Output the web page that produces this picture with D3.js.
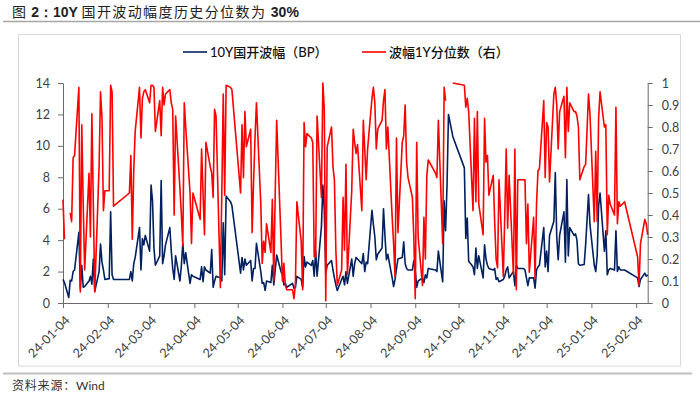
<!DOCTYPE html>
<html>
<head>
<meta charset="utf-8">
<script src="https://cdn.jsdelivr.net/npm/d3@7"></script>
<style>
  body { margin: 0; background: #fff; }
  text { font-family: Lato, 'Noto Sans CJK SC', sans-serif; }
</style>
</head>
<body>
<svg width="700" height="394"></svg>
<script>
// trading days, 2024-01-04 .. 2025-02-12
const dates = [
  '2024-01-04','2024-01-05','2024-01-08','2024-01-09','2024-01-10','2024-01-11','2024-01-12','2024-01-15','2024-01-16','2024-01-17','2024-01-18','2024-01-19','2024-01-22','2024-01-23','2024-01-24','2024-01-25','2024-01-26','2024-01-29','2024-01-30','2024-01-31',
  '2024-02-01','2024-02-02','2024-02-05','2024-02-06','2024-02-07','2024-02-08','2024-02-19','2024-02-20','2024-02-21','2024-02-22','2024-02-23','2024-02-26','2024-02-27','2024-02-28','2024-02-29',
  '2024-03-01','2024-03-04','2024-03-05','2024-03-06','2024-03-07','2024-03-08','2024-03-11','2024-03-12','2024-03-13','2024-03-14','2024-03-15','2024-03-18','2024-03-19','2024-03-20','2024-03-21','2024-03-22','2024-03-25','2024-03-26','2024-03-27','2024-03-28','2024-03-29',
  '2024-04-01','2024-04-02','2024-04-03','2024-04-08','2024-04-09','2024-04-10','2024-04-11','2024-04-12','2024-04-15','2024-04-16','2024-04-17','2024-04-18','2024-04-19','2024-04-22','2024-04-23','2024-04-24','2024-04-25','2024-04-26','2024-04-29','2024-04-30',
  '2024-05-06','2024-05-07','2024-05-08','2024-05-09','2024-05-10','2024-05-13','2024-05-14','2024-05-15','2024-05-16','2024-05-17','2024-05-20','2024-05-21','2024-05-22','2024-05-23','2024-05-24','2024-05-27','2024-05-28','2024-05-29','2024-05-30','2024-05-31',
  '2024-06-03','2024-06-04','2024-06-05','2024-06-06','2024-06-07','2024-06-11','2024-06-12','2024-06-13','2024-06-14','2024-06-17','2024-06-18','2024-06-19','2024-06-20','2024-06-21','2024-06-24','2024-06-25','2024-06-26','2024-06-27','2024-06-28',
  '2024-07-01','2024-07-02','2024-07-03','2024-07-04','2024-07-05','2024-07-08','2024-07-09','2024-07-10','2024-07-11','2024-07-12','2024-07-15','2024-07-16','2024-07-17','2024-07-18','2024-07-19','2024-07-22','2024-07-23','2024-07-24','2024-07-25','2024-07-26','2024-07-29','2024-07-30','2024-07-31',
  '2024-08-01','2024-08-02','2024-08-05','2024-08-06','2024-08-07','2024-08-08','2024-08-09','2024-08-12','2024-08-13','2024-08-14','2024-08-15','2024-08-16','2024-08-19','2024-08-20','2024-08-21','2024-08-22','2024-08-23','2024-08-26','2024-08-27','2024-08-28','2024-08-29','2024-08-30',
  '2024-09-02','2024-09-03','2024-09-04','2024-09-05','2024-09-06','2024-09-09','2024-09-10','2024-09-11','2024-09-12','2024-09-13','2024-09-18','2024-09-19','2024-09-20','2024-09-23','2024-09-24','2024-09-25','2024-09-26','2024-09-27','2024-09-30',
  '2024-10-08','2024-10-09','2024-10-10','2024-10-11','2024-10-14','2024-10-15','2024-10-16','2024-10-17','2024-10-18','2024-10-21','2024-10-22','2024-10-23','2024-10-24','2024-10-25','2024-10-28','2024-10-29','2024-10-30','2024-10-31',
  '2024-11-01','2024-11-04','2024-11-05','2024-11-06','2024-11-07','2024-11-08','2024-11-11','2024-11-12','2024-11-13','2024-11-14','2024-11-15','2024-11-18','2024-11-19','2024-11-20','2024-11-21','2024-11-22','2024-11-25','2024-11-26','2024-11-27','2024-11-28','2024-11-29',
  '2024-12-02','2024-12-03','2024-12-04','2024-12-05','2024-12-06','2024-12-09','2024-12-10','2024-12-11','2024-12-12','2024-12-13','2024-12-16','2024-12-17','2024-12-18','2024-12-19','2024-12-20','2024-12-23','2024-12-24','2024-12-25','2024-12-26','2024-12-27','2024-12-30','2024-12-31',
  '2025-01-02','2025-01-03','2025-01-06','2025-01-07','2025-01-08','2025-01-09','2025-01-10','2025-01-13','2025-01-14','2025-01-15','2025-01-16','2025-01-17','2025-01-20','2025-01-21','2025-01-22','2025-01-23','2025-01-24','2025-01-27',
  '2025-02-05','2025-02-06','2025-02-07','2025-02-10','2025-02-11','2025-02-12'
]

// 10Y国开波幅（BP）, left axis
const bp = [
  1.5,1.3,0.35,1.45,1.4,2.0,2.1,4.5,0.9,2.4,1.0,1.05,1.4,1.7,1.2,2.8,0.75,2.0,3.75,2.6,
  2.1,1.5,1.55,5.8,1.8,1.5,1.5,2.0,1.4,2.5,2.9,4.8,2.1,4.1,3.7,
  4.3,3.3,7.5,6.5,3.5,2.4,3.0,7.8,2.5,3.0,3.7,4.8,3.3,2.2,1.5,3.0,1.4,2.4,3.8,2.5,3.2,
  1.25,1.8,1.7,1.5,2.3,1.35,2.3,2.1,1.9,3.4,1.0,1.4,1.7,1.6,1.4,5.1,1.8,6.8,6.45,6.2,
  1.9,2.9,2.1,2.8,2.4,2.7,1.4,2.2,2.2,3.8,2.0,1.25,1.3,0.8,1.4,1.3,2.4,1.15,2.1,3.05,
  2.0,1.8,1.15,1.25,1.0,1.25,0.93,1.0,1.7,1.5,1.0,2.95,2.3,2.6,2.4,2.7,1.7,3.3,1.7,
  4.85,7.5,5.9,1.9,2.4,2.7,2.1,1.6,1.15,0.8,1.5,1.7,1.15,2.0,1.25,2.8,1.7,2.5,2.9,2.8,2.5,3.15,2.0,
  2.6,2.5,5.9,5.0,4.2,2.75,3.1,3.5,6.0,4.3,2.75,3.1,1.6,1.05,1.5,2.2,2.8,2.9,3.9,2.5,2.2,2.1,
  2.1,2.7,2.1,1.0,1.4,1.6,1.3,1.8,1.6,2.2,2.1,2.0,3.3,1.35,6.5,4.6,7.5,12.0,10.6,
  8.6,4.1,5.4,2.65,2.3,1.8,3.5,2.2,3.0,1.6,3.7,2.8,2.4,2.2,2.1,2.2,1.5,1.6,
  1.35,1.5,1.7,2.1,2.3,1.6,2.0,1.1,2.4,2.2,2.2,2.2,2.1,1.6,1.1,1.6,1.6,0.95,2.1,2.3,2.4,
  4.8,2.3,3.3,2.0,4.3,5.2,8.3,4.2,2.75,4.3,5.8,2.6,7.85,3.0,4.8,4.3,4.4,4.0,2.5,2.4,2.45,3.7,
  6.9,5.0,2.4,2.0,3.0,6.2,7.0,3.3,4.6,1.8,2.1,2.2,2.1,4.6,2.0,2.3,2.1,2.1,
  1.6,1.05,1.5,1.9,1.7,1.8
]

// 波幅1Y分位数（右）, right axis
const pct = [
  0.47,0.29,null,0.41,0.37,0.66,0.67,0.98,0.05,0.81,0.45,0.15,0.59,0.30,0.86,0.45,0.05,0.62,0.96,0.84,
  0.42,0.51,0.51,0.99,0.96,0.44,0.50,0.67,0.29,0.60,0.78,0.98,0.75,0.93,0.96,
  0.97,0.91,0.99,0.99,0.98,0.78,0.92,0.76,0.98,0.90,0.95,0.97,0.91,0.88,0.40,0.85,0.52,0.40,0.26,0.91,0.80,
  0.50,0.27,0.50,0.38,0.70,0.50,0.31,0.73,0.62,0.59,0.48,0.88,0.85,0.07,0.50,0.95,0.49,0.99,0.98,0.97,
  0.50,0.81,0.57,0.87,0.71,0.79,0.32,0.55,0.75,0.91,0.45,0.18,0.28,0.23,0.36,0.23,0.47,0.10,0.50,0.83,
  0.29,0.10,0.18,0.08,0.06,0.06,0.02,0.09,0.46,0.28,0.06,0.82,0.71,0.77,0.75,0.73,0.21,0.21,0.85,
  0.48,1.0,0.88,0.01,0.71,0.80,0.62,0.56,0.24,0.08,0.15,0.48,0.24,0.63,0.13,0.51,0.79,0.73,0.68,0.72,0.42,0.83,0.70,
  0.56,0.70,0.93,0.98,0.91,0.70,0.79,0.83,0.92,0.97,0.70,0.80,0.39,0.27,0.12,0.75,0.32,0.73,0.76,0.90,0.64,0.57,
  0.48,0.30,0.02,0.73,0.30,0.08,0.39,0.20,0.58,0.65,0.59,0.57,0.83,0.27,0.98,0.92,null,null,1.0,
  0.99,0.89,0.93,0.87,0.42,0.84,0.46,0.87,0.45,0.31,0.84,0.64,0.67,0.49,0.58,0.37,0.20,0.16,
  0.56,0.12,0.40,0.70,0.34,0.58,0.13,0.70,0.06,0.56,0.56,0.56,0.56,0.27,0.45,0.14,0.39,0.11,0.45,0.60,0.61,
  0.92,0.57,0.82,0.80,0.55,0.95,0.98,0.90,0.70,0.87,0.94,0.66,0.98,0.78,0.91,0.87,0.87,0.85,0.80,0.56,0.62,0.63,
  0.95,0.86,0.37,0.69,0.37,0.84,0.96,0.80,0.81,0.31,0.49,0.45,0.40,0.89,0.36,0.46,0.44,0.46,
  0.21,0.08,0.27,0.38,0.36,0.31
]

const xTicks = ['2024-01-04','2024-02-04','2024-03-04','2024-04-04','2024-05-04','2024-06-04','2024-07-04',
  '2024-08-04','2024-09-04','2024-10-04','2024-11-04','2024-12-04','2025-01-04','2025-02-04']
const leftTicks = [0, 2, 4, 6, 8, 10, 12, 14]
const rightTicks = [0, 0.1, 0.2, 0.3, 0.4, 0.5, 0.6, 0.7, 0.8, 0.9, 1]
const seriesNames = ['10Y国开波幅（BP）', '波幅1Y分位数（右）']

const parseDate = d3.timeParse('%Y-%m-%d')
const data = dates.map((d, i) => ({date: parseDate(d), bp: bp[i], pct: pct[i]}))

const svg = d3.select('svg')
const plot = {left: 63, right: 647.7, top: 83, bottom: 303}
const axisColor = '#6b6b6b'
const labelColor = '#404040'

// title + frame
const title = svg.append('text').attr('x', 12).attr('y', 17).attr('font-size', 14).attr('fill', '#222')
title.append('tspan').attr('font-family', "'Noto Sans CJK SC'").attr('letter-spacing', 1).text('图 ')
title.append('tspan').attr('font-weight', 'bold').attr('font-family', 'Arial, Liberation Sans').text('2：10Y ')
title.append('tspan').attr('font-family', "'Noto Sans CJK SC'").attr('letter-spacing', 1.4).text('国开波动幅度历史分位数为 ')
title.append('tspan').attr('font-weight', 'bold').attr('font-family', 'Arial, Liberation Sans').text('30%')

svg.append('line').attr('x1', 3).attr('x2', 700).attr('y1', 21.5).attr('y2', 21.5)
  .attr('stroke', '#a6a6a6').attr('stroke-width', 1.5)
svg.append('rect').attr('x', 18.5).attr('y', 34.5).attr('width', 662).attr('height', 331.5)
  .attr('fill', 'none').attr('stroke', '#d9d9d9')
svg.append('line').attr('x1', 3).attr('x2', 692).attr('y1', 373.5).attr('y2', 373.5)
  .attr('stroke', '#bfbfbf').attr('stroke-width', 2)
const src = svg.append('text').attr('x', 12).attr('y', 390).attr('font-size', 12).attr('fill', '#333')
src.append('tspan').attr('font-family', "'Noto Sans CJK SC'").attr('letter-spacing', 0.8).text('资料来源：')
src.append('tspan').text('Wind')

// scales
const x = d3.scaleTime()
  .domain([parseDate('2024-01-04'), parseDate('2025-02-12')])
  .range([plot.left, plot.right])
const yL = d3.scaleLinear().domain([0, 14]).range([plot.bottom, plot.top])
const yR = d3.scaleLinear().domain([0, 1]).range([plot.bottom, plot.top])

// axes
const styleAxis = (g) => {
  g.select('.domain').attr('stroke', axisColor)
  g.selectAll('.tick line').attr('stroke', axisColor)
  g.selectAll('.tick text').attr('fill', labelColor).attr('font-size', 12.5)
    .attr('font-family', 'Lato, sans-serif')
}

svg.append('g')
  .attr('transform', `translate(${plot.left},0)`)
  .call(d3.axisLeft(yL).tickValues(leftTicks).tickSize(5).tickSizeOuter(0).tickPadding(8))
  .call(styleAxis)

svg.append('g')
  .attr('transform', `translate(${plot.right},0)`)
  .call(d3.axisRight(yR).tickValues(rightTicks).tickSize(5).tickSizeOuter(0).tickPadding(9)
    .tickFormat((d) => (d === 0 || d === 1) ? String(d) : d.toFixed(1)))
  .call(styleAxis)

const xAxis = svg.append('g')
  .attr('transform', `translate(0,${plot.bottom})`)
  .call(d3.axisBottom(x).tickValues(xTicks.map(parseDate)).tickSize(5).tickSizeOuter(0)
    .tickFormat(d3.timeFormat('%y-%m-%d')))
  .call(styleAxis)
xAxis.selectAll('.tick text')
  .attr('x', 0).attr('y', 0).attr('dy', '0.35em')
  .attr('text-anchor', 'end')
  .attr('transform', 'translate(4,15) rotate(-45)')

// lines
const lineBp = d3.line()
  .x((d) => x(d.date))
  .y((d) => yL(d.bp))

const linePct = d3.line()
  .defined((d) => d.pct != null)
  .x((d) => x(d.date))
  .y((d) => yR(d.pct))

svg.append('path').datum(data)
  .attr('fill', 'none').attr('stroke', '#002060').attr('stroke-width', 1.6)
  .attr('stroke-linejoin', 'round')
  .attr('d', lineBp)

svg.append('path').datum(data)
  .attr('fill', 'none').attr('stroke', '#ff0000').attr('stroke-width', 1.6)
  .attr('stroke-linejoin', 'round')
  .attr('d', linePct)

// legend
const legend = [
  {name: seriesNames[0], color: '#002060', x: 183},
  {name: seriesNames[1], color: '#ff0000', x: 362}
]
const lg = svg.append('g').selectAll('g').data(legend).join('g')
  .attr('transform', (d) => `translate(${d.x},52)`)
lg.append('line').attr('x1', 0).attr('x2', 24).attr('stroke', (d) => d.color).attr('stroke-width', 1.6)
lg.append('text').attr('x', 27).attr('dy', '0.36em').attr('font-size', 13).attr('fill', '#111')
  .attr('font-family', "'Noto Sans CJK SC', sans-serif").attr('font-weight', 500)
  .text((d) => d.name)
</script>
</body>
</html>
